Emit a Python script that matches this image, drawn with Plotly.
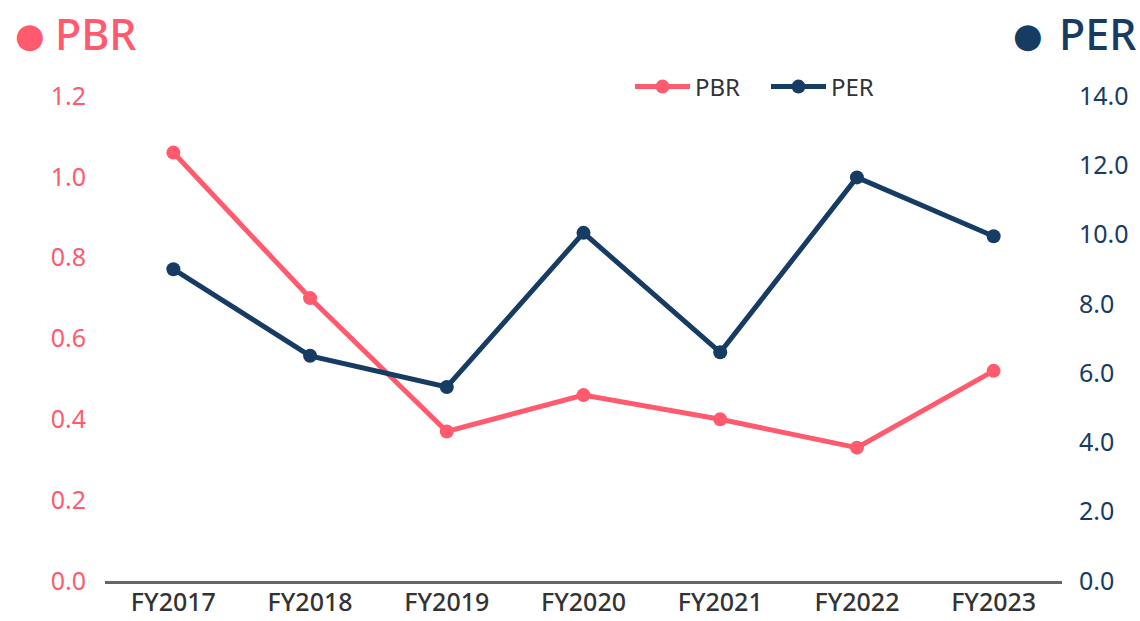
import plotly.graph_objects as go

years = ["FY2017", "FY2018", "FY2019", "FY2020", "FY2021", "FY2022", "FY2023"]
pbr = [1.06, 0.70, 0.37, 0.46, 0.40, 0.33, 0.52]
per = [9.0, 6.5, 5.6, 10.05, 6.6, 11.65, 9.95]
pbr_ticks = [0.0, 0.2, 0.4, 0.6, 0.8, 1.0, 1.2]
per_ticks = [0.0, 2.0, 4.0, 6.0, 8.0, 10.0, 12.0, 14.0]

PINK = "#FF5A6E"
NAVY = "#173C64"
FONT = "Noto Sans, Open Sans, sans-serif"

L, R, T, B = 105, 78, 96, 40
W, H = 1140, 621
PW, PH = W - L - R, H - T - B

fig = go.Figure()
fig.add_trace(go.Scatter(x=years, y=pbr, name="PBR", mode="lines+markers",
                         line=dict(color=PINK, width=5), marker=dict(size=14, color=PINK),
                         yaxis="y"))
fig.add_trace(go.Scatter(x=years, y=per, name="PER", mode="lines+markers",
                         line=dict(color=NAVY, width=5), marker=dict(size=14, color=NAVY),
                         yaxis="y2"))

fig.update_layout(
    width=W, height=H,
    margin=dict(l=L, r=R, t=T, b=B, autoexpand=False),
    paper_bgcolor="white", plot_bgcolor="white",
    font=dict(family=FONT),
    xaxis=dict(type="category", range=[-0.5, 6.5], showgrid=False, showline=True,
               linecolor="#666666", linewidth=3, ticks="", automargin=False,
               ticklabelstandoff=-3,
               tickfont=dict(size=25, color="#333333", family=FONT, weight=500)),
    yaxis=dict(range=[0, 1.2], tickvals=pbr_ticks, ticktext=[f"{v:.1f}" for v in pbr_ticks],
               showgrid=False, zeroline=False, showline=False, automargin=False,
               tickfont=dict(size=25, color=PINK), ticklabelstandoff=18),
    yaxis2=dict(range=[0, 14], tickvals=per_ticks, ticktext=[f"{v:.1f}" for v in per_ticks],
                overlaying="y", side="right", showgrid=False, zeroline=False, showline=False,
                automargin=False,
                tickfont=dict(size=25, color=NAVY), ticklabelstandoff=16),
    legend=dict(orientation="h", x=(630 - L) / PW, y=(H - B - 87) / PH, xanchor="left",
                yanchor="middle", font=dict(size=24, color="#333333"), itemwidth=55,
                entrywidth=66, entrywidthmode="pixels",
                traceorder="normal", bgcolor="rgba(0,0,0,0)"),
    showlegend=True,
)

def px(xp):
    return (xp - L) / PW

def py(yp):
    return (H - B - yp) / PH

# dots
fig.add_annotation(xref="paper", yref="paper", x=px(30), y=py(35), xanchor="center",
                   yanchor="middle", showarrow=False, text="●",
                   font=dict(size=34, color=PINK, family="DejaVu Sans"))
fig.add_annotation(xref="paper", yref="paper", x=px(1028), y=py(35), xanchor="center",
                   yanchor="middle", showarrow=False, text="●",
                   font=dict(size=34, color=NAVY, family="DejaVu Sans"))
fig.add_annotation(xref="paper", yref="paper", x=px(53), y=py(33), xanchor="left",
                   yanchor="middle", showarrow=False, text="PBR",
                   font=dict(size=43, color=PINK, family=FONT, weight=500))
fig.add_annotation(xref="paper", yref="paper", x=px(1138), y=py(33), xanchor="right",
                   yanchor="middle", showarrow=False, text="PER",
                   font=dict(size=43, color=NAVY, family=FONT, weight=500))

fig.write_html("out.html", config={"displayModeBar": False},
               post_script="document.body.style.margin='0';document.body.style.padding='0';")
